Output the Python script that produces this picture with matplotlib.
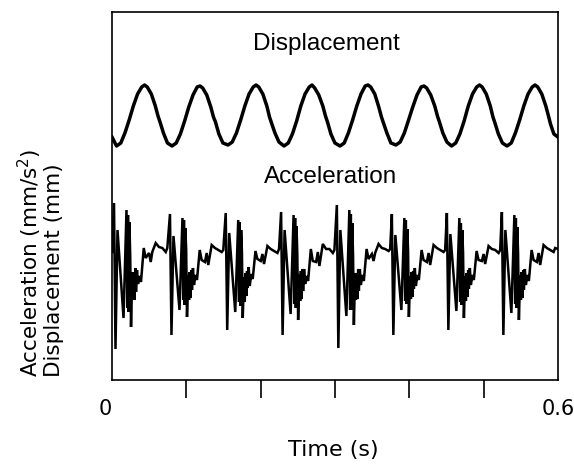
import numpy as np
import matplotlib
matplotlib.use("Agg")
import matplotlib.pyplot as plt

# time axis in ms, plotted in seconds
# displacement: one entry per cycle, starting at each trough
disp_trough_ms = [6.1, 80.7, 156.1, 231.4, 306.7, 382.0, 456.7, 531.4]
disp_offset_ms = [0, 5.7, 11.3, 17.0, 22.6, 28.3, 33.9, 37.7, 41.3, 46.8, 52.2, 55.8, 58.5, 63.1, 68.5]
disp_cycles = [
    [234, 237, 247, 260, 274, 286, 293, 295, 293, 286, 274, 264, 258, 247, 237],
    [234, 237, 246, 259, 273, 285, 293, 294, 292, 285, 273, 263, 258, 246, 237],
    [235, 238, 247, 260, 274, 286, 293, 295, 293, 286, 274, 263, 257, 247, 238],
    [234, 237, 246, 259, 274, 286, 293, 295, 292, 285, 274, 264, 258, 246, 237],
    [234, 237, 247, 260, 274, 286, 294, 295, 293, 286, 273, 263, 257, 247, 237],
    [235, 238, 247, 260, 273, 285, 293, 294, 292, 285, 274, 264, 258, 247, 238],
    [234, 237, 246, 259, 274, 286, 293, 295, 293, 286, 274, 263, 257, 246, 237],
    [234, 237, 247, 260, 274, 286, 293, 295, 293, 286, 274, 264, 256, 246, 243],
]
disp_start = (0.0, 243)

# acceleration: one entry per beat, starting at each spike
acc_spike_ms = [2.7, 78.0, 153.0, 227.5, 302.5, 376.5, 450.5, 524.5]
acc_offset_ms = [0, 2.0, 4.7, 12.8, 16.8, 17.9, 18.8, 19.8, 20.7, 21.8, 22.9, 24.6, 25.6, 26.6,
                 27.6, 28.7, 29.6, 30.9, 32.3, 34.3, 36.3, 40.0, 42.6, 47.1, 49.4, 51.5, 56.1,
                 60.5, 65.0, 69.6, 71.7]
acc_cycles = [
    [177, 31, 150, 62, 170, 72, 165, 68, 158, 125, 53, 108, 82, 106, 80, 112, 88, 110, 96, 104,
     98, 132, 122, 127, 118, 128, 137, 133, 132, 128, 132],
    [166, 45, 144, 70, 162, 80, 160, 75, 152, 130, 63, 105, 80, 108, 82, 110, 90, 112, 95, 105,
     100, 130, 120, 118, 127, 115, 135, 132, 130, 128, 130],
    [167, 50, 147, 68, 160, 78, 158, 74, 150, 128, 62, 103, 78, 107, 84, 109, 92, 113, 94, 106,
     101, 129, 121, 119, 126, 116, 134, 131, 129, 127, 131],
    [168, 45, 150, 66, 165, 76, 162, 72, 154, 126, 60, 106, 79, 109, 81, 111, 89, 111, 96, 104,
     99, 131, 119, 118, 128, 114, 136, 131, 131, 127, 130],
    [175, 32, 150, 64, 170, 70, 166, 70, 157, 124, 55, 107, 80, 107, 81, 111, 89, 111, 95, 105,
     99, 131, 121, 126, 119, 127, 136, 132, 131, 129, 131],
    [166, 45, 145, 70, 162, 79, 160, 76, 151, 129, 63, 104, 81, 108, 83, 109, 91, 112, 94, 105,
     100, 130, 120, 118, 127, 115, 135, 132, 130, 128, 130],
    [167, 50, 146, 69, 162, 78, 157, 75, 150, 127, 62, 104, 79, 107, 83, 110, 91, 112, 95, 105,
     100, 129, 120, 119, 126, 116, 134, 131, 130, 127, 130],
    [168, 45, 150, 67, 165, 76, 162, 72, 153, 127, 60, 105, 80, 108, 82, 110, 90, 111, 95, 105,
     99, 130, 120, 118, 127, 115, 135, 132, 130, 128, 132],
]
acc_start = (0.0, 128)
acc_end = (600.0, 131)


def build(start, starts, offsets, cycles, end=None):
    t = [start[0]]
    v = [start[1]]
    for t0, vals in zip(starts, cycles):
        t += [t0 + o for o in offsets]
        v += vals
    if end is not None:
        t.append(end[0])
        v.append(end[1])
    return np.array(t) / 1000.0, np.array(v)


disp_t, disp_v = build(disp_start, disp_trough_ms, disp_offset_ms, disp_cycles)
acc_t, acc_v = build(acc_start, acc_spike_ms, acc_offset_ms, acc_cycles, acc_end)

fig = plt.figure(figsize=(5.74, 4.70), dpi=100)
ax = fig.add_axes([112 / 574, 90 / 470, 446 / 574, 368 / 470])

ax.plot(disp_t, disp_v, color='black', linewidth=2.5, solid_joinstyle='round')
ax.plot(acc_t, acc_v, color='black', linewidth=1.8, solid_joinstyle='miter')

ax.set_xlim(0, 0.6)
ax.set_ylim(0, 368)

for s in ax.spines.values():
    s.set_linewidth(1.2)

# labels only at the ends, bare ticks in between
ax.set_xticks([0, 0.6])
ax.set_xticklabels(['0', '0.6'], fontsize=15, family='DejaVu Sans')
ax.get_xticklabels()[0].set_ha('right')
ax.set_xticks([0.1, 0.2, 0.3, 0.4, 0.5], minor=True)
ax.tick_params(axis='x', which='major', length=0, pad=14)
ax.tick_params(axis='x', which='minor', direction='out', length=13, width=1.2)
ax.set_yticks([])

ax.text(0.2888, 330, 'Displacement', fontsize=17.5, family='Liberation Sans',
        ha='center', va='baseline')
ax.text(0.294, 197, 'Acceleration', fontsize=17.5, family='Liberation Sans',
        ha='center', va='baseline')

fig.text(333 / 574, 1 - 450 / 470, 'Time (s)', fontsize=16, family='DejaVu Sans',
         ha='center', va='center')
fig.text(40 / 574, 1 - 377 / 470, 'Acceleration (mm/s$^2$)\nDisplacement (mm)',
         fontsize=15.5, family='DejaVu Sans', rotation=90, ha='center', va='bottom',
         multialignment='left', linespacing=1.0)

fig.savefig('out.png', dpi=100)
